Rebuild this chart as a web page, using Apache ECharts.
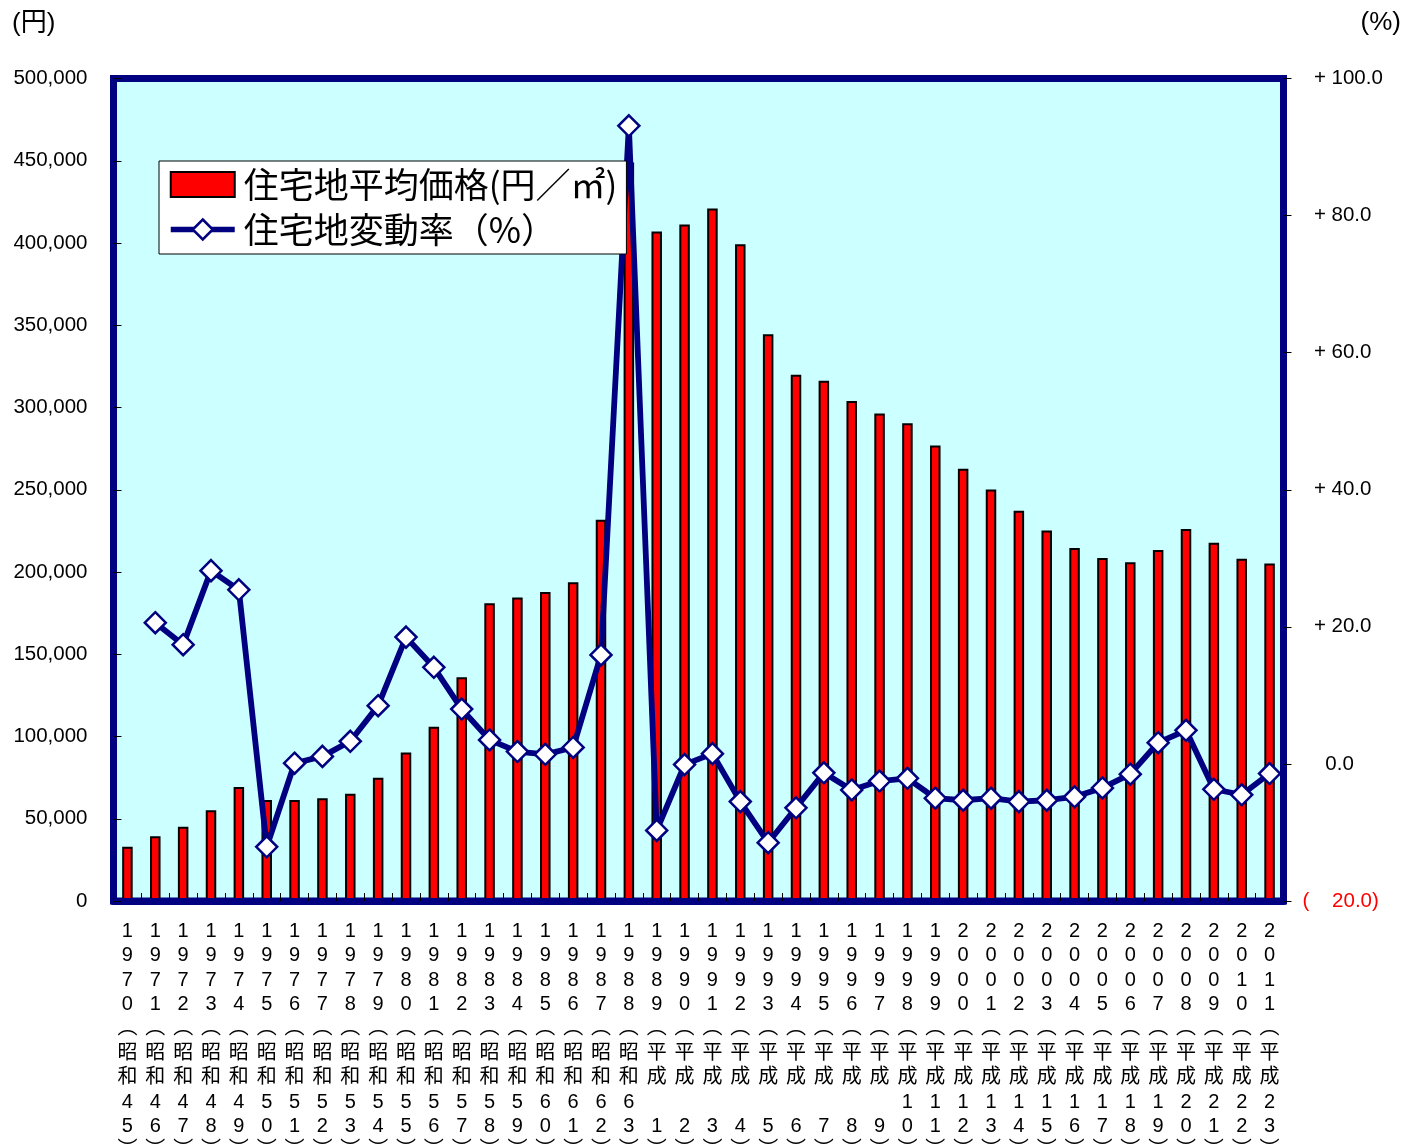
<!DOCTYPE html>
<html>
<head>
<meta charset="utf-8">
<script src="https://cdn.jsdelivr.net/npm/echarts@6/dist/echarts.min.js"></script>
<style>
html,body{margin:0;padding:0;background:#fff;}
#c{width:1404px;height:1147px;}
</style>
</head>
<body>
<div id="c"></div>
<script>
const years = [1970,1971,1972,1973,1974,1975,1976,1977,1978,1979,1980,1981,1982,1983,1984,1985,1986,1987,1988,1989,1990,1991,1992,1993,1994,1995,1996,1997,1998,1999,2000,2001,2002,2003,2004,2005,2006,2007,2008,2009,2010,2011];
const eras = ['昭和','昭和','昭和','昭和','昭和','昭和','昭和','昭和','昭和','昭和','昭和','昭和','昭和','昭和','昭和','昭和','昭和','昭和','昭和','平成','平成','平成','平成','平成','平成','平成','平成','平成','平成','平成','平成','平成','平成','平成','平成','平成','平成','平成','平成','平成','平成','平成'];
const eraYears = [45,46,47,48,49,50,51,52,53,54,55,56,57,58,59,60,61,62,63,1,2,3,4,5,6,7,8,9,10,11,12,13,14,15,16,17,18,19,20,21,22,23];
const price = [33000,39300,45100,55100,69300,61400,61400,62400,65200,74900,90300,106000,136000,181000,184500,187800,193700,231800,449000,407000,411300,421000,399300,344500,319900,316300,303900,296400,290400,276900,262700,250100,237300,225200,214600,208500,206000,213300,226100,217800,208100,205200];
const rate = [null,20.6,17.4,28.2,25.4,-12.1,0.1,1.1,3.3,8.5,18.5,14.1,8.0,3.5,1.8,1.4,2.4,15.9,93.1,-9.7,-0.1,1.5,-5.5,-11.5,-6.4,-1.3,-3.8,-2.5,-2.1,-5.0,-5.3,-5.0,-5.5,-5.3,-4.8,-3.5,-1.5,3.1,4.9,-3.7,-4.5,-1.4];
const seriesNames = ['住宅地平均価格(円／㎡)','住宅地変動率（%）'];
const leftUnit = '(円)';
const rightUnit = '(%)';

const categories = years.map((y,i)=>{
  const ys = String(y).split('');
  const ey = String(eraYears[i]);
  const e1 = ey.length === 2 ? ey[0] : ' ';
  const e2 = ey.length === 2 ? ey[1] : ey[0];
  return [...ys,'︵',eras[i][0],eras[i][1],e1,e2,'︶'].join('\n');
});

const NAVY = '#000080';
const FONT = '"Liberation Sans", Arial, "Noto Sans CJK JP", sans-serif';

const chart = echarts.init(document.getElementById('c'), null, {renderer:'canvas'});
chart.setOption({
  animation:false,
  backgroundColor:'#fff',
  grid:{left:113.5, top:78.5, right:120.5, bottom:246, show:true, backgroundColor:'#CCFFFF', borderColor:NAVY, borderWidth:7, outerBoundsMode:'none', containLabel:false},
  graphic:[
    {type:'text', left:12, top:11, style:{text:leftUnit, font:'26px '+FONT, fill:'#000'}},
    {type:'text', right:3, top:10, style:{text:rightUnit, font:'26px '+FONT, fill:'#000'}}
  ],
  legend:{
    left:159, top:161, orient:'vertical',
    backgroundColor:'#fff', borderColor:'#000', borderWidth:1,
    padding:[6,9,7,9], itemWidth:64, itemHeight:25, itemGap:10,
    textStyle:{fontSize:35, fontFamily:'"Noto Sans CJK JP", sans-serif', color:'#000', padding:[0,0,0,4]},
    data:[
      {name:seriesNames[0], icon:'rect', itemStyle:{color:'#FF0000', borderColor:'#000', borderWidth:2}},
      {name:seriesNames[1], lineStyle:{color:NAVY, width:5.5}, itemStyle:{color:'#fff', borderColor:NAVY, borderWidth:2.5}}
    ]
  },
  xAxis:{
    type:'category', data:categories, z:3,
    axisLine:{show:true, lineStyle:{color:NAVY, width:7}},
    axisTick:{show:true, inside:true, length:8, lineStyle:{color:'#000', width:1}},
    axisLabel:{interval:0, margin:18, fontSize:20, lineHeight:24.4, fontFamily:FONT, color:'#000', align:'center'},
    splitLine:{show:false}
  },
  yAxis:[
    {type:'value', min:0, max:500000, interval:50000, position:'left', z:3,
     axisLine:{show:true, lineStyle:{color:NAVY, width:7}},
     axisTick:{show:true, inside:true, length:8, lineStyle:{color:'#000', width:1}},
     axisLabel:{margin:26, fontSize:20.5, fontFamily:FONT, color:'#000', formatter:v=>v.toLocaleString('en-US')},
     splitLine:{show:false}},
    {type:'value', min:-20, max:100, interval:20, position:'right', z:3,
     axisLine:{show:true, lineStyle:{color:NAVY, width:7}},
     axisTick:{show:true, inside:false, length:8, lineStyle:{color:'#000', width:1}},
     axisLabel:{margin:19, align:'left', fontSize:20.5, fontFamily:FONT, color:'#000',
       formatter:v=>{
         if (v>0) return '  + '+v.toFixed(1);
         if (v<0) return '{r|(    '+Math.abs(v).toFixed(1)+')}';
         return '    '+v.toFixed(1);
       },
       rich:{r:{color:'#FF0000', fontSize:20.5, fontFamily:FONT}}},
     splitLine:{show:false}}
  ],
  series:[
    {name:seriesNames[0], type:'bar', yAxisIndex:0, data:price, barWidth:10.5,
     itemStyle:{color:'#FF0000', borderColor:'#000', borderWidth:2}},
    {name:seriesNames[1], type:'line', yAxisIndex:1, data:rate, symbol:'diamond', symbolSize:21,
     lineStyle:{color:NAVY, width:5.8},
     itemStyle:{color:'#fff', borderColor:NAVY, borderWidth:2.5}}
  ]
});
</script>
</body>
</html>
